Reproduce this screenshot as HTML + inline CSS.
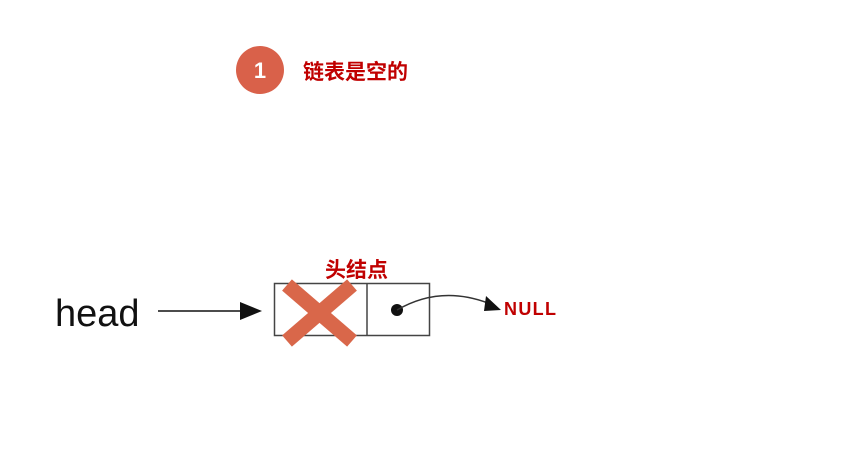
<!DOCTYPE html>
<html><head><meta charset="utf-8"><style>
html,body{margin:0;padding:0;background:#fff;}
body{width:841px;height:453px;overflow:hidden;position:relative;font-family:"Liberation Sans","Noto Sans CJK SC",sans-serif;}
</style></head><body>
<svg width="841" height="453" viewBox="0 0 841 453" xmlns="http://www.w3.org/2000/svg" style="position:absolute;left:0;top:0">
<circle cx="260" cy="70" r="24" fill="#D9614A"/>
<text x="260" y="78" text-anchor="middle" font-family="Liberation Sans, sans-serif" font-weight="bold" font-size="22" fill="#fff">1</text>
<text x="303" y="79" font-family="Liberation Sans, Noto Sans CJK SC, sans-serif" font-weight="bold" font-size="21" fill="#C00000">链表是空的</text>
<text x="55" y="326" font-family="Liberation Sans, sans-serif" font-size="38" fill="#111">head</text>
<line x1="158" y1="311" x2="244" y2="311" stroke="#111" stroke-width="1.5"/>
<polygon points="240,302 262,311 240,320" fill="#111"/>
<rect x="274.5" y="283.5" width="155" height="52" fill="none" stroke="#444" stroke-width="1.5"/>
<line x1="367" y1="283" x2="367" y2="335" stroke="#444" stroke-width="1.5"/>
<text x="325" y="277" font-family="Liberation Sans, Noto Sans CJK SC, sans-serif" font-weight="bold" font-size="21" fill="#C00000">头结点</text>
<line x1="287" y1="285" x2="352" y2="341" stroke="#D9674A" stroke-width="15"/>
<line x1="352" y1="285" x2="287" y2="341" stroke="#D9674A" stroke-width="15"/>
<circle cx="397" cy="310" r="6" fill="#111"/>
<path d="M397 310 Q440 285 488 303" fill="none" stroke="#333" stroke-width="1.5"/>
<polygon points="486,296 501,310 484,311" fill="#111"/>
<text x="504" y="315" font-family="Liberation Sans, sans-serif" font-weight="bold" font-size="18" fill="#C00000" textLength="52">NULL</text>
</svg>
</body></html>
